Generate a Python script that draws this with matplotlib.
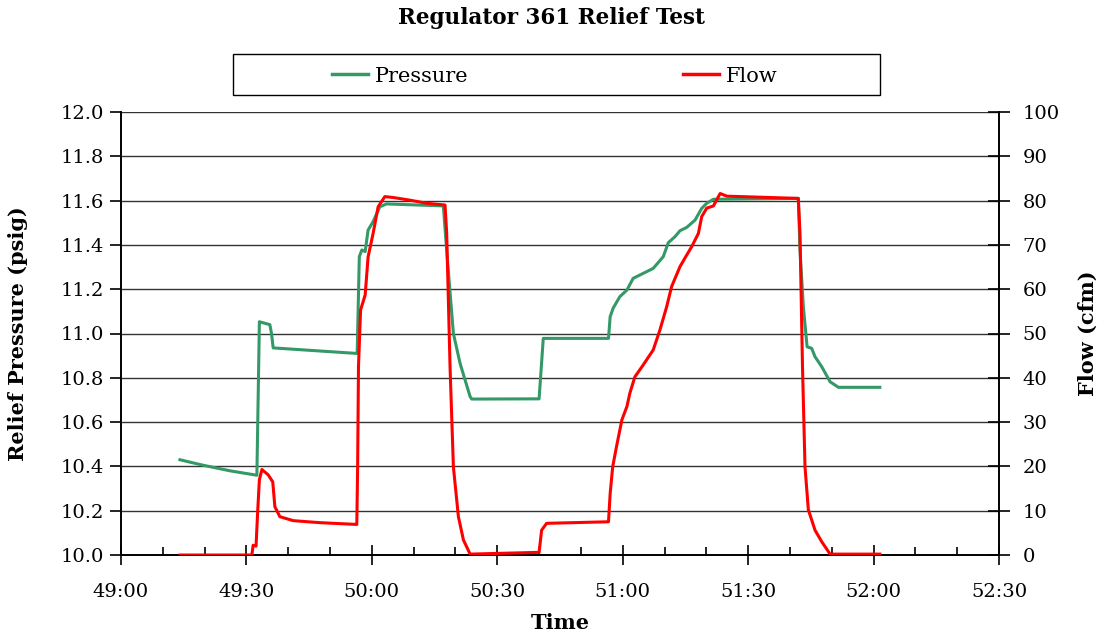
import matplotlib
matplotlib.use("Agg")
import matplotlib.pyplot as plt
from matplotlib.ticker import MultipleLocator, FuncFormatter
from matplotlib.lines import Line2D
from matplotlib.patches import Rectangle

plt.rcParams['font.family'] = ['DejaVu Serif']

# time in seconds (mm:ss converted)
p_time = [2954.1, 2959.7, 2966.1, 2972.5, 2973.1, 2975.6, 2976.0, 2976.4, 2996.4,
          2996.5, 2997.0, 2997.6, 2998.4, 2999.1, 3000.3, 3001.9, 3003.5, 3017.1,
          3018.0, 3019.5, 3021.1, 3023.5, 3023.9, 3040.0, 3041.0, 3056.6, 3057.0,
          3057.7, 3059.3, 3061.0, 3062.5, 3064.1, 3067.3, 3069.7, 3070.9, 3072.5,
          3073.7, 3075.3, 3077.3, 3078.9, 3080.1, 3081.7, 3102.0, 3102.4, 3103.2,
          3104.1, 3105.2, 3106.0, 3107.6, 3109.6, 3111.6, 3121.5]
p_vals = [10.43, 10.405, 10.38, 10.36, 11.053, 11.04, 11.0, 10.935, 10.91,
          10.92, 11.347, 11.377, 11.37, 11.467, 11.505, 11.572, 11.585, 11.576,
          11.35, 11.0, 10.865, 10.715, 10.704, 10.705, 10.978, 10.978, 11.076,
          11.114, 11.166, 11.196, 11.249, 11.264, 11.294, 11.347, 11.41, 11.437,
          11.464, 11.479, 11.512, 11.565, 11.588, 11.606, 11.61, 11.377, 11.121,
          10.94, 10.933, 10.895, 10.85, 10.782, 10.757, 10.757]

f_time = [2954.1, 2971.3, 2971.6, 2972.3, 2972.7, 2973.1, 2973.7, 2975.2, 2976.3,
          2976.8, 2978.0, 2981.2, 2987.6, 2996.4, 2996.6, 2996.8, 2997.3, 2998.4,
          2999.1, 3000.3, 3001.5, 3003.1, 3005.1, 3009.1, 3013.1, 3017.5, 3017.9,
          3018.7, 3019.5, 3020.7, 3021.9, 3023.5, 3040.0, 3040.6, 3041.8, 3056.6,
          3057.0, 3057.6, 3058.5, 3059.8, 3061.0, 3061.7, 3062.9, 3064.9, 3067.3,
          3068.9, 3070.5, 3071.7, 3073.7, 3075.3, 3076.5, 3078.1, 3078.9, 3080.1,
          3081.7, 3083.3, 3084.9, 3102.0, 3102.4, 3103.0, 3103.6, 3104.4, 3106.0,
          3107.6, 3109.6, 3121.5]
f_vals = [0.0, 0.0, 2.2, 2.0, 10.0, 17.0, 19.3, 18.1, 16.5,
          10.9, 8.65, 7.75, 7.3, 6.9, 19.9, 42.5, 55.3, 58.7,
          67.3, 72.6, 78.6, 80.9, 80.7, 80.1, 79.4, 79.0, 72.6,
          42.5, 19.9, 8.65, 3.4, 0.2, 0.6, 5.6, 7.15, 7.5,
          13.9, 19.9, 24.4, 30.5, 33.5, 36.5, 40.2, 42.9, 46.3,
          50.8, 56.0, 60.6, 65.1, 67.7, 69.6, 72.6, 76.4, 78.3,
          78.8, 81.6, 81.0, 80.5, 72.6, 42.5, 19.9, 10.2, 5.6,
          3.0, 0.2, 0.2]

title = "Regulator 361 Relief Test"
xlabel = "Time"
ylabel_left = "Relief Pressure (psig)"
ylabel_right = "Flow (cfm)"
series_names = ["Pressure", "Flow"]

green = "#339966"
red = "#FF0000"

W, H = 1102, 640
fig = plt.figure(figsize=(W/100, H/100), dpi=100)
ax = fig.add_axes([121/W, 1-555/H, (999-121)/W, (555-112)/H])
ax2 = ax.twinx()

ax.plot(p_time, p_vals, color=green, lw=2.2, zorder=3)
ax2.plot(f_time, f_vals, color=red, lw=2.2, zorder=3)

ax.set_xlim(2940, 3150)
ax.set_ylim(10.0, 12.0)
ax2.set_ylim(0, 100)

ax.xaxis.set_major_locator(MultipleLocator(30))
ax.xaxis.set_minor_locator(MultipleLocator(10))
ax.xaxis.set_major_formatter(FuncFormatter(lambda v, pos: f"{int(v)//60:02d}:{int(v)%60:02d}"))
ax.yaxis.set_major_locator(MultipleLocator(0.2))
ax.yaxis.set_major_formatter(FuncFormatter(lambda v, pos: f"{v:.1f}"))
ax2.yaxis.set_major_locator(MultipleLocator(10))

ax.grid(axis='y', color='#333333', lw=1.0)
ax.set_axisbelow(True)

for a in (ax, ax2):
    a.spines['top'].set_visible(False)
    a.spines['left'].set_linewidth(1.2)
    a.spines['right'].set_linewidth(1.2)
    a.spines['bottom'].set_linewidth(1.2)
    a.patch.set_visible(False)

ax.tick_params(axis='x', which='major', direction='inout', length=14, width=1.2, labelsize=14, pad=13)
ax.tick_params(axis='x', which='minor', direction='in', length=6, width=1.2)
ax.tick_params(axis='y', which='major', direction='out', length=8, width=1.2, labelsize=14, pad=4)
ax2.tick_params(axis='y', which='major', direction='inout', length=16, width=1.2, labelsize=14, pad=9)

ax.set_xlabel(xlabel, fontsize=15, fontweight='bold', labelpad=9)
ax.set_ylabel(ylabel_left, fontsize=15, fontweight='bold', labelpad=24)
ax2.set_ylabel(ylabel_right, fontsize=15, fontweight='bold', labelpad=13)

fig.text(0.5, 1-18/H, title, ha='center', va='center', fontsize=15.5, fontweight='bold')

# legend frame
fig.patches.append(Rectangle((233/W, 1-95/H), (880-233)/W, 41/H, transform=fig.transFigure,
                             fill=False, edgecolor='black', lw=1.0, zorder=1))
colors = [green, red]
starts = [332, 683]
for name, col, x0 in zip(series_names, colors, starts):
    lg = fig.legend([Line2D([0], [0], color=col, lw=2.5)], [name],
                    loc='center left', bbox_to_anchor=(x0/W, 1-76/H),
                    fontsize=15, frameon=False, handlelength=1.75, handletextpad=0.3,
                    borderpad=0, borderaxespad=0)

fig.savefig("out.png", dpi=100)
